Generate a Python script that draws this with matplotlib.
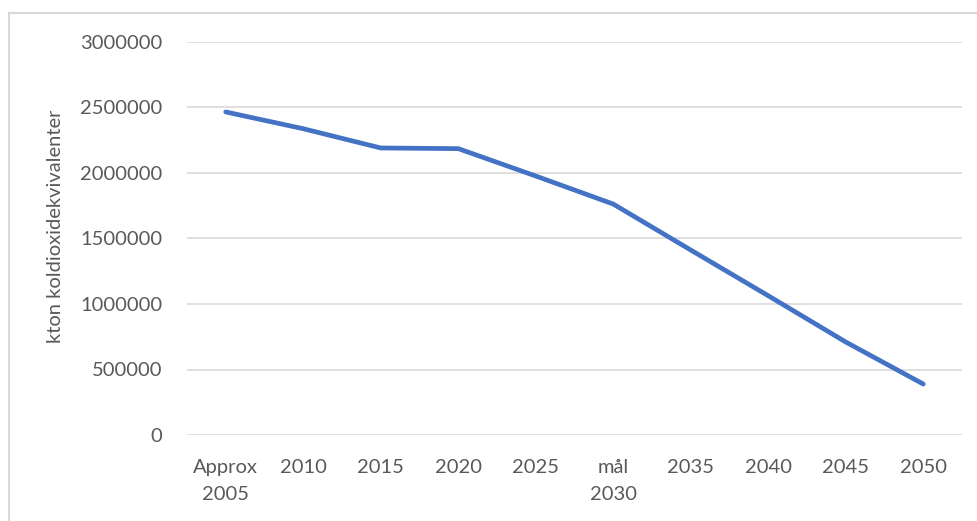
import matplotlib
matplotlib.use("Agg")
import matplotlib.pyplot as plt
from matplotlib.lines import Line2D

# category labels and values (kton CO2e)
labels = ["Approx\n2005", "2010", "2015", "2020", "2025", "mål\n2030",
          "2035", "2040", "2045", "2050"]
values = [2466000, 2338000, 2191000, 2186000, 1977000, 1763000,
          1412000, 1063000, 710000, 389000]
yticks = [0, 500000, 1000000, 1500000, 2000000, 2500000, 3000000]

plt.rcParams["font.family"] = ["Lato", "DejaVu Sans"]
txt = "#595959"
grid = "#d9d9d9"

W, H = 978, 521
fig = plt.figure(figsize=(W / 100, H / 100), dpi=100)
ax = fig.add_axes([187 / W, 1 - 435 / H, 775 / W, 393 / H])

x = range(len(labels))
ax.plot(x, values, color="#4472C4", linewidth=3.4, solid_capstyle="round",
        solid_joinstyle="round", zorder=3)

ax.set_xlim(-0.5, len(labels) - 0.5)
ax.set_ylim(0, 3000000)
ax.set_yticks(yticks)
ax.set_yticklabels([str(v) for v in yticks])
ax.set_xticks(list(x))
ax.set_xticklabels(labels, linespacing=1.75)

ax.grid(axis="y", color=grid, linewidth=1.2)
ax.set_axisbelow(True)
for s in ax.spines.values():
    s.set_visible(False)
ax.tick_params(axis="both", length=0, labelsize=14.5, labelcolor=txt)
ax.tick_params(axis="y", pad=18)
ax.tick_params(axis="x", pad=17)

fig.text(56 / W, 1 - 226 / H, "kton koldioxidekvivalenter", rotation=90,
         ha="center", va="center", fontsize=14.5, color=txt)

# outer chart frame (left and top edges visible)
fig.add_artist(Line2D([8.5 / W, 8.5 / W], [0, 1 - 13 / H],
                      transform=fig.transFigure, color=grid, linewidth=1.5))
fig.add_artist(Line2D([8.5 / W, 1], [1 - 13 / H, 1 - 13 / H],
                      transform=fig.transFigure, color=grid, linewidth=1.5))

fig.savefig("out.png", dpi=100)
